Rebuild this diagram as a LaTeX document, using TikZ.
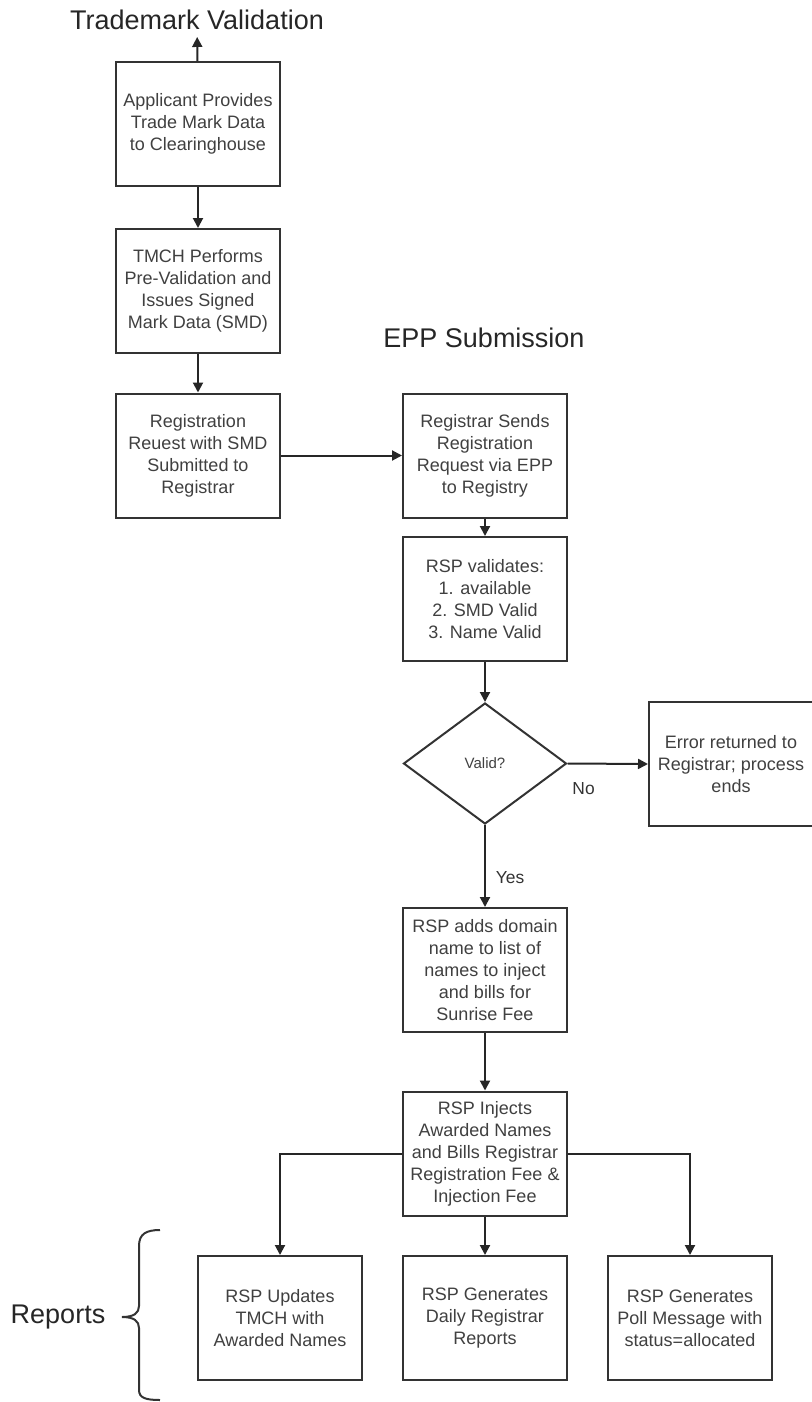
\documentclass[tikz,border=0pt]{standalone}
\usepackage{fontspec}
\setmainfont{Liberation Sans}
\usetikzlibrary{shapes.geometric,arrows.meta}

\tikzset{
  box/.style={draw=black!80,line width=1pt,fill=white,minimum width=82pt,minimum height=62pt,inner sep=1pt,align=center,text=black!75,font=\fontsize{9}{11}\selectfont},
  decision/.style={diamond,draw=black!80,line width=1pt,minimum width=81.5pt,minimum height=60.5pt,inner sep=0pt,text=black!75,font=\fontsize{7.5}{9}\selectfont},
  flow/.style={draw=black!85,line width=1pt,-{Triangle[length=5pt,width=5pt]}},
  heading/.style={text=black!85,font=\fontsize{13.5}{16}\selectfont},
  edgelabel/.style={text=black!80,font=\fontsize{8.7}{10}\selectfont,inner sep=1pt},
}

\begin{document}
\begin{tikzpicture}[x=0.5pt,y=-0.5pt]
\useasboundingbox (0,0) rectangle (812,1402);
% trademark validation column
\node[heading] (tmv) at (197,20) {Trademark Validation};
\node[box] (applicant) at (198,124) {Applicant Provides\\Trade Mark Data\\to Clearinghouse};
\node[box] (tmch) at (198,291) {TMCH Performs\\Pre-Validation and\\Issues Signed\\Mark Data (SMD)};
\node[box] (request) at (198,455.5) {Registration\\Reuest with SMD\\Submitted to\\Registrar};
% epp submission column
\node[heading] (epp) at (484,338) {EPP Submission};
\node[box] (sends) at (485,455.5) {Registrar Sends\\Registration\\Request via EPP\\to Registry};
\node[box] (validates) at (485,599) {RSP validates:\\1. available\\2. SMD Valid\\3. Name Valid};
\node[decision] (valid) at (485,763.5) {Valid?};
\node[box] (error) at (731,764) {Error returned to\\Registrar; process\\ends};
\node[box] (adds) at (485,970) {RSP adds domain\\name to list of\\names to inject\\and bills for\\Sunrise Fee};
\node[box] (injects) at (485,1153.5) {RSP Injects\\Awarded Names\\and Bills Registrar\\Registration Fee \&\\Injection Fee};
% reports
\node[box] (updates) at (280,1318) {RSP Updates\\TMCH with\\Awarded Names};
\node[box] (daily) at (485,1318) {RSP Generates\\Daily Registrar\\Reports};
\node[box] (poll) at (690,1318) {RSP Generates\\Poll Message with\\status=allocated};
\node[heading] (reports) at (58,1317) {Reports};
\draw[black!80,line width=1pt] (160,1230) .. controls (146,1230) and (139,1234) .. (139,1246) -- (139,1306) .. controls (139,1313) and (134,1317) .. (122,1317) .. controls (134,1317) and (139,1321) .. (139,1328) -- (139,1390) .. controls (139,1398) and (146,1400) .. (160,1400);
% connectors
\draw[flow] (applicant) -- (tmv);
\draw[flow] (applicant) -- (tmch);
\draw[flow] (tmch) -- (request);
\draw[flow] (request) -- (sends);
\draw[flow] (sends) -- (validates);
\draw[flow] (validates) -- (valid);
\draw[flow] (valid.east) -- node[edgelabel,pos=0.2,yshift=-12.5pt] {No} (error.west);
\draw[flow] (valid) -- node[edgelabel,pos=0.64,xshift=12.5pt] {Yes} (adds);
\draw[flow] (adds) -- (injects);
\draw[flow] (injects.west) -| (updates.north);
\draw[flow] (injects) -- (daily);
\draw[flow] (injects.east) -| (poll.north);
\end{tikzpicture}
\end{document}
